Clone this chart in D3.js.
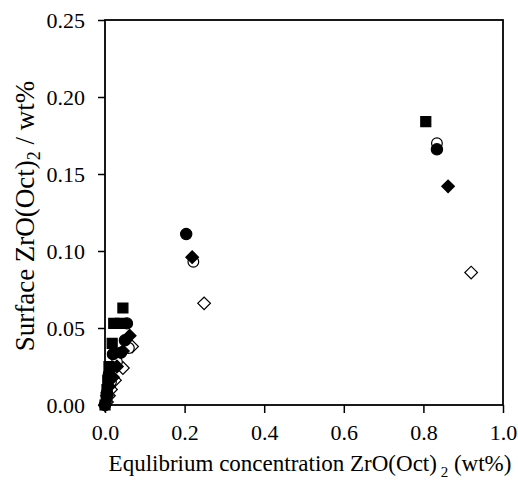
<!DOCTYPE html>
<html><head><meta charset="utf-8">
<script src="https://cdn.jsdelivr.net/npm/d3@7"></script>
<style>body{margin:0;background:#fff}svg{display:block}</style>
</head><body>
<svg id="c" width="518" height="483"></svg>
<script>
const xTicks = [0.0, 0.2, 0.4, 0.6, 0.8, 1.0];
const yTicks = [0.00, 0.05, 0.10, 0.15, 0.20, 0.25];
const filledSquare = [[0.0,0.0],[0.003,0.005],[0.005,0.010],[0.007,0.016],[0.010,0.025],[0.018,0.040],[0.022,0.053],[0.038,0.053],[0.045,0.063],[0.806,0.184]];
const filledCircle = [[0.0,0.0],[0.005,0.008],[0.010,0.020],[0.020,0.033],[0.040,0.034],[0.050,0.042],[0.055,0.053],[0.204,0.111],[0.834,0.166]];
const openCircle = [[0.005,0.005],[0.015,0.015],[0.030,0.028],[0.060,0.037],[0.222,0.093],[0.834,0.170]];
const filledDiamond = [[0.0,0.0],[0.005,0.006],[0.010,0.012],[0.020,0.018],[0.030,0.025],[0.045,0.035],[0.062,0.045],[0.219,0.096],[0.862,0.142]];
const openDiamond = [[0.005,0.002],[0.010,0.006],[0.015,0.010],[0.025,0.016],[0.045,0.024],[0.068,0.038],[0.249,0.066],[0.920,0.086]];

const svg = d3.select("#c");
const L=105, T=20, R=503, B=405;
const x = d3.scaleLinear().domain([0,1]).range([L,R]);
const y = d3.scaleLinear().domain([0,0.25]).range([B,T]);
const font = "'Liberation Serif','Times New Roman',serif";

const gx = svg.append("g").attr("transform",`translate(0,${B})`)
  .call(d3.axisBottom(x).tickValues(xTicks).tickFormat(d3.format(".1f")).tickSize(8).tickPadding(11));
const gy = svg.append("g").attr("transform",`translate(${L},0)`)
  .call(d3.axisLeft(y).tickValues(yTicks).tickFormat(d3.format(".2f")).tickSize(7).tickPadding(13));
[gx,gy].forEach(g=>{
  g.select(".domain").remove();
  g.selectAll("line").attr("stroke","#000").attr("stroke-width",1.5);
  g.selectAll("text").attr("font-family",font).attr("font-size",22).attr("fill","#000");
});
svg.append("rect").attr("x",L).attr("y",T).attr("width",R-L).attr("height",B-T)
  .attr("fill","none").attr("stroke","#000").attr("stroke-width",1.8);

const sym = (type,size)=>d3.symbol().type(type).size(size)();
function plot(data,type,size,filled,rot){
  svg.append("g").selectAll("path").data(data).join("path")
    .attr("d",sym(type,size))
    .attr("transform",d=>`translate(${x(d[0])},${y(d[1])})${rot?" rotate(45)":""}`)
    .attr("fill",filled?"#000":"#fff").attr("stroke","#000").attr("stroke-width",1.2);
}
plot(openDiamond,d3.symbolSquare,80,false,true);
plot(openCircle,d3.symbolCircle,90,false,false);
plot(filledSquare,d3.symbolSquare,100,true,false);
plot(filledDiamond,d3.symbolSquare,80,true,true);
plot(filledCircle,d3.symbolCircle,100,true,false);

svg.append("text").attr("x",310).attr("y",471).attr("text-anchor","middle")
  .attr("font-family",font).attr("font-size",23)
  .html('Equlibrium concentration ZrO(Oct)<tspan font-size="15" dy="6"> 2</tspan><tspan dy="-6"> (wt%)</tspan>');
svg.append("text").attr("transform",`translate(34,216) rotate(-90)`).attr("text-anchor","middle")
  .attr("font-family",font).attr("font-size",27)
  .html('Surface ZrO(Oct)<tspan font-size="18" dy="6">2</tspan><tspan dy="-6"> / wt%</tspan>');
</script>
</body></html>
